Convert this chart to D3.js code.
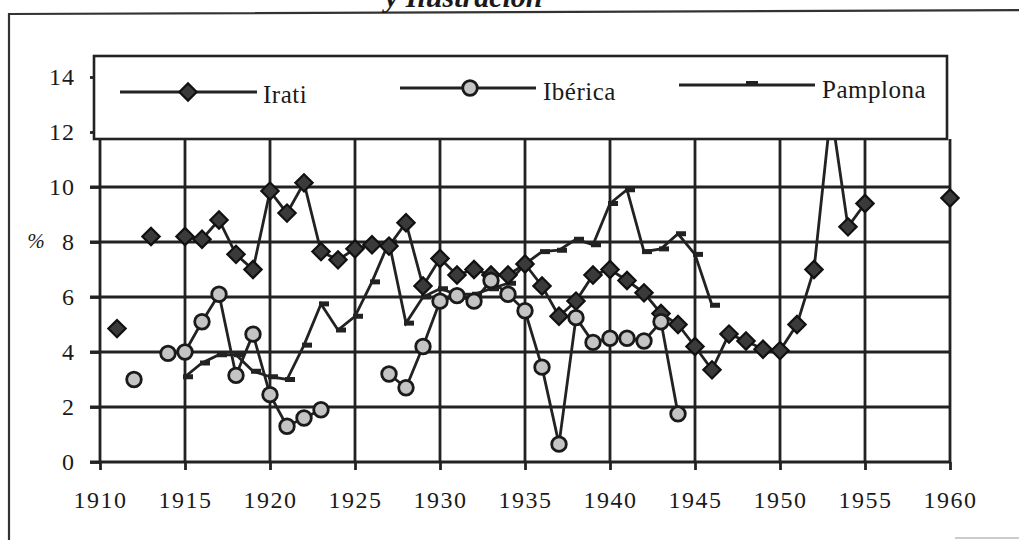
<!DOCTYPE html>
<html><head><meta charset="utf-8">
<script src="https://cdn.jsdelivr.net/npm/d3@7"></script>
<style>
html,body{margin:0;padding:0;background:#fff;}
svg{display:block;}
text{font-family:"Liberation Serif","Times New Roman",serif;fill:#1a1a1a;}
</style></head>
<body>
<svg id="c" width="1019" height="540"></svg>
<script>
const years = d3.range(1911, 1961);
const irati = [4.85,null,8.2,null,8.2,8.1,8.8,7.55,7.0,9.85,9.05,10.15,7.65,7.35,7.75,7.9,7.85,8.7,6.4,7.4,6.8,7.0,6.8,6.8,7.2,6.4,5.3,5.85,6.8,7.0,6.6,6.15,5.4,5.0,4.2,3.35,4.65,4.4,4.1,4.05,5.0,7.0,12.8,8.55,9.4,null,null,null,null,9.6];
const iberica = [null,3.0,null,3.95,4.0,5.1,6.1,3.15,4.65,2.45,1.3,1.6,1.9,null,null,null,3.2,2.7,4.2,5.85,6.05,5.85,6.6,6.1,5.5,3.45,0.65,5.25,4.35,4.5,4.5,4.4,5.1,1.75,null,null,null,null,null,null,null,null,null,null,null,null,null,null,null,null];
const pamplona = [null,null,null,null,3.1,3.6,3.9,3.9,3.3,3.1,3.0,4.25,5.75,4.8,5.3,6.55,8.0,5.05,6.0,6.3,6.1,6.1,6.3,6.5,7.2,7.65,7.7,8.1,7.9,9.4,9.9,7.65,7.75,8.3,7.55,5.7,null,null,null,null,null,null,null,null,null,null,null,null,null,null];
const seriesNames = ["Irati","Ibérica","Pamplona"];
const xTicks = [1910,1915,1920,1925,1930,1935,1940,1945,1950,1955,1960];
const yTicks = [0,2,4,6,8,10,12,14];
const gridY = [0,2,4,6,8,10];

const svg = d3.select("#c");
const ink = "#222";
const x = d3.scaleLinear().domain([1910,1960]).range([100,950]);
const y = d3.scaleLinear().domain([0,14]).range([462,77]);
const legendTop = 56, legendBottom = 139;

// outer frame (scanned page border)
svg.append("path").attr("d","M1030,10 L9,14 L9,545").attr("fill","none").attr("stroke","#333").attr("stroke-width",2.2);
svg.append("line").attr("x1",955).attr("x2",1019).attr("y1",538).attr("y2",538).attr("stroke","#bbb").attr("stroke-width",1.5);

// title fragment cut at top (as in the scanned page)
svg.append("text").attr("x",385).attr("y",7).attr("font-size",30).attr("font-style","italic").attr("font-weight","bold").text("y Ilustración");

// gridlines
const g = svg.append("g");
g.selectAll("line.h").data(gridY).join("line").attr("class","h")
  .attr("x1",90).attr("x2",x(1960)).attr("y1",d=>y(d)).attr("y2",d=>y(d))
  .attr("stroke",ink).attr("stroke-width",2.8);
g.selectAll("line.v").data(xTicks).join("line").attr("class","v")
  .attr("x1",d=>x(d)).attr("x2",d=>x(d)).attr("y1",legendBottom).attr("y2",y(0))
  .attr("stroke",ink).attr("stroke-width",2.8);

// axes
const yAxis = d3.axisLeft(y).tickValues(yTicks).tickSize(10).tickPadding(15).tickFormat(d3.format("d"));
const ya = svg.append("g").attr("transform",`translate(${x(1910)},0)`).call(yAxis);
ya.select(".domain").remove();
ya.selectAll("line").attr("stroke",ink).attr("stroke-width",2.8);
ya.selectAll("text").attr("font-size",24).attr("font-family","Liberation Serif").attr("fill","#222").attr("letter-spacing","1px");

const xAxis = d3.axisBottom(x).tickValues(xTicks).tickSize(8).tickPadding(21).tickFormat(d3.format("d"));
const xa = svg.append("g").attr("transform",`translate(0,${y(0)})`).call(xAxis);
xa.select(".domain").remove();
xa.selectAll("line").attr("stroke",ink).attr("stroke-width",2.8);
xa.selectAll("text").attr("font-size",24).attr("font-family","Liberation Serif").attr("fill","#222").attr("letter-spacing","1.5px");

svg.append("text").attr("x",36).attr("y",248).attr("text-anchor","middle").attr("font-size",21).attr("font-style","italic").text("%");

// data
const mk = arr => years.map((yr,i)=>({yr, v: arr[i]}));
const line = d3.line().defined(d=>d.v!=null).x(d=>x(d.yr)).y(d=>y(d.v));
const dP = mk(pamplona), dI = mk(irati), dB = mk(iberica);
const plot = svg.append("g");
[dP,dI,dB].forEach(d=>{
  plot.append("path").datum(d).attr("d",line).attr("fill","none").attr("stroke",ink).attr("stroke-width",2.8).attr("stroke-linejoin","miter");
});
// Pamplona dash markers
plot.selectAll("rect.pm").data(dP.filter(d=>d.v!=null)).join("rect").attr("class","pm")
  .attr("x",d=>x(d.yr)-2).attr("y",d=>y(d.v)-2.5).attr("width",10).attr("height",5).attr("fill",ink);
// Irati diamonds
const diamond = d3.symbol().type(d3.symbolSquare).size(150);
plot.selectAll("path.ir").data(dI.filter(d=>d.v!=null)).join("path").attr("class","ir")
  .attr("d",diamond).attr("transform",d=>`translate(${x(d.yr)},${y(d.v)}) rotate(45)`)
  .attr("fill","#3a3a3a").attr("stroke","#111").attr("stroke-width",2.2);
// Ibérica circles
plot.selectAll("circle.ib").data(dB.filter(d=>d.v!=null)).join("circle").attr("class","ib")
  .attr("cx",d=>x(d.yr)).attr("cy",d=>y(d.v)).attr("r",7.3)
  .attr("fill","#c4c4c4").attr("stroke","#1a1a1a").attr("stroke-width",2.8);

// legend box (covers plot top)
svg.append("rect").attr("x",x(1910)-6).attr("y",legendTop).attr("width",x(1960)-x(1910)+3).attr("height",legendBottom-legendTop)
  .attr("fill","#fff").attr("stroke",ink).attr("stroke-width",2.6);
const leg = svg.append("g");
const legItems = [
  {name:seriesNames[0], x1:120, x2:257, ly:92, mx:188, tx:263, ty:103},
  {name:seriesNames[1], x1:400, x2:536, ly:88, mx:470, tx:543, ty:100},
  {name:seriesNames[2], x1:679, x2:815, ly:85, mx:752, tx:822, ty:98}
];
legItems.forEach((it,i)=>{
  leg.append("line").attr("x1",it.x1).attr("x2",it.x2).attr("y1",it.ly).attr("y2",it.ly).attr("stroke",ink).attr("stroke-width",2.8);
  if(i===0) leg.append("path").attr("d",diamond).attr("transform",`translate(${it.mx},${it.ly}) rotate(45)`).attr("fill","#3a3a3a").attr("stroke","#111").attr("stroke-width",2.2);
  if(i===1) leg.append("circle").attr("cx",it.mx).attr("cy",it.ly).attr("r",7.3).attr("fill","#c4c4c4").attr("stroke","#1a1a1a").attr("stroke-width",2.8);
  if(i===2) leg.append("rect").attr("x",it.mx-6).attr("y",it.ly-4).attr("width",12).attr("height",4).attr("fill",ink);
  leg.append("text").attr("x",it.tx).attr("y",it.ty).attr("font-size",25).attr("letter-spacing","0.5px").text(it.name);
});
</script>
</body></html>
